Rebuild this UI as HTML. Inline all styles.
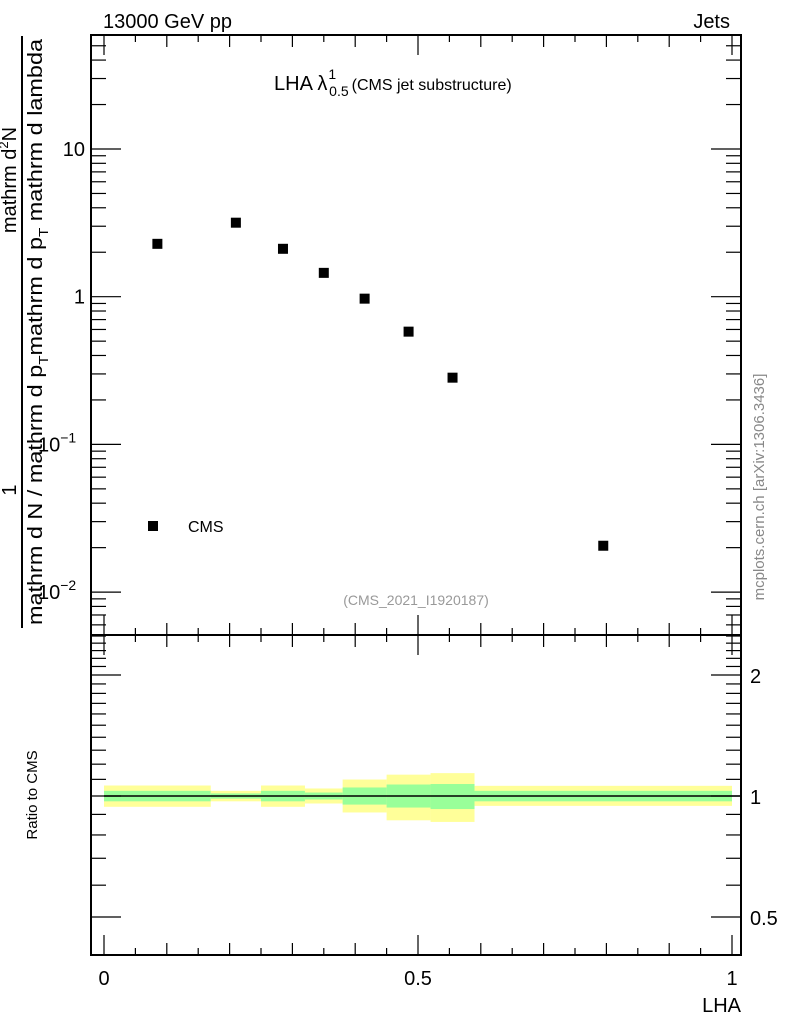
<!DOCTYPE html>
<html><head><meta charset="utf-8"><style>
html,body{margin:0;padding:0;background:#fff}
svg{display:block;font-family:"Liberation Sans",sans-serif}
</style></head><body>
<svg id="c" width="786" height="1024" viewBox="0 0 786 1024">
<g id="g"></g>
<text x="103" y="28" font-size="20">13000 GeV pp</text>
<text x="730" y="28" font-size="20" text-anchor="end">Jets</text>
<text x="274" y="90" font-size="20">LHA λ<tspan font-size="14" dy="-11" dx="1">1</tspan><tspan font-size="14" dy="17" dx="-7">0.5</tspan><tspan font-size="16" dy="-6" dx="3">(CMS jet substructure)</tspan></text>
<g>
<rect x="148" y="521" width="10" height="10" fill="#000"/>
<text x="188" y="532" font-size="16">CMS</text>
</g>
<text x="416" y="605" font-size="14" fill="#999" text-anchor="middle">(CMS_2021_I1920187)</text>
<text transform="translate(764,487) rotate(-90)" font-size="15" fill="#888" text-anchor="middle">mcplots.cern.ch [arXiv:1306.3436]</text>
<line x1="22" y1="36" x2="22" y2="628" stroke="#000" stroke-width="2"/>
<text transform="translate(16,180) rotate(-90)" font-size="20" text-anchor="middle">mathrm d<tspan font-size="13" dy="-8">2</tspan><tspan dy="8">N</tspan></text>
<text transform="translate(16,490) rotate(-90)" font-size="20" text-anchor="middle">1</text>
<text transform="translate(42,625) rotate(-90)" font-size="20" textLength="586" lengthAdjust="spacingAndGlyphs">mathrm d N / mathrm d p<tspan font-size="13" dy="6">T</tspan><tspan dy="-6">mathrm d p</tspan><tspan font-size="13" dy="6">T</tspan><tspan dy="-6"> mathrm d lambda</tspan></text>
<text transform="translate(37,795) rotate(-90)" font-size="15" text-anchor="middle">Ratio to CMS</text>
<text x="741" y="1012" font-size="20" text-anchor="end">LHA</text>
</svg>
<script>
const binEdges=[0,0.17,0.25,0.32,0.38,0.45,0.52,0.59,1.0];
const pointX=[0.085,0.21,0.285,0.35,0.415,0.485,0.555,0.795];
const pointY=[2.28,3.17,2.11,1.45,0.97,0.58,0.283,0.0206];
const yellowHi=[1.062,1.03,1.062,1.044,1.099,1.13,1.14,1.06];
const yellowLo=[0.94,0.97,0.94,0.958,0.91,0.87,0.862,0.945];
const greenHi=[1.03,1.015,1.03,1.02,1.05,1.068,1.071,1.03];
const greenLo=[0.97,0.985,0.97,0.98,0.952,0.936,0.928,0.97];
const mainTicks=[0.01,0.1,1,10];
const ratioTicks=[0.5,1,2];
const ratioTickLabels=["0.5","1","2"];
const xTicks=[0,0.5,1];
const xTickLabels=["0","0.5","1"];

const NS="http://www.w3.org/2000/svg";
const g=document.getElementById('g');
const L=91,R=741,T=35,MB=635,RB=955;
const X=v=>104+v*628;
const YM=v=>149-(Math.log10(v)-1)*147.7;
const YR=v=>796-Math.log10(v)*402;
function el(t,a,p){const e=document.createElementNS(NS,t);for(const k in a)e.setAttribute(k,a[k]);(p||g).appendChild(e);return e;}
function line(x1,y1,x2,y2,w){return el('line',{x1,y1,x2,y2,stroke:'#000','stroke-width':w||1.5});}
function txt(x,y,s,a){const e=el('text',Object.assign({x,y,'font-size':20,fill:'#000'},a||{}));e.textContent=s;return e;}

for(let i=0;i<binEdges.length-1;i++){
  const b=el('rect',{x:X(binEdges[i]),y:YR(yellowHi[i]),width:X(binEdges[i+1])-X(binEdges[i]),height:YR(yellowLo[i])-YR(yellowHi[i]),fill:'#ffff99'});
  
  
  const c=el('rect',{x:X(binEdges[i]),y:YR(greenHi[i]),width:X(binEdges[i+1])-X(binEdges[i]),height:YR(greenLo[i])-YR(greenHi[i]),fill:'#99ff99'});
  
  
}
const ref=line(X(0),YR(1),R,YR(1),1.5);



el('rect',{x:L,y:T,width:R-L,height:MB-T,fill:'none',stroke:'#000','stroke-width':2});
el('rect',{x:L,y:MB,width:R-L,height:RB-MB,fill:'none',stroke:'#000','stroke-width':2});

for(let k=0;k<=20;k++){
  const v=k*0.05,x=X(v);
  const len=(k%10===0)?20:(k%2===0)?12:7;
  [[MB,-1],[T,1],[RB,-1],[MB,1]].forEach(([y,d])=>line(x,y,x,y+d*len,1.2));
}
xTicks.forEach((v,i)=>{const t=txt(X(v),985,xTickLabels[i],{'text-anchor':'middle'});
  });

for(let d=-3;d<=1;d++){for(let m=1;m<=9;m++){
  const v=m*Math.pow(10,d),y=YM(v);if(y<T||y>MB)continue;
  const len=m===1?30:15;line(L,y,L+len,y,1.2);line(R,y,R-len,y,1.2);}}
mainTicks.forEach(v=>{const y=YM(v);let t;
  if(v>=1){t=txt(85,y+7,String(v),{'text-anchor':'end'});}
  else{t=txt(38,y+7,'10');const s=el('tspan',{dy:-9,'font-size':14},t);s.textContent='\u2212'+Math.round(-Math.log10(v));}
  });

[0.5,0.6,0.7,0.8,0.9,1,1.1,1.2,1.3,1.4,1.5,1.6,1.7,1.8,1.9,2,2.1,2.2,2.3,2.4,2.5].forEach(v=>{
  const y=YR(v);if(y<MB||y>RB)return;const len=(v===0.5||v===1||v===2)?30:15;
  line(L,y,L+len,y,1.2);line(R,y,R-len,y,1.2);});
ratioTicks.forEach((v,i)=>{const t=txt(750,YR(v)+8,ratioTickLabels[i]);
  });

pointX.forEach((v,i)=>{const p=el('rect',{x:X(v)-5,y:YM(pointY[i])-5,width:10,height:10,fill:'#000'});
  });
</script>
</body></html>
